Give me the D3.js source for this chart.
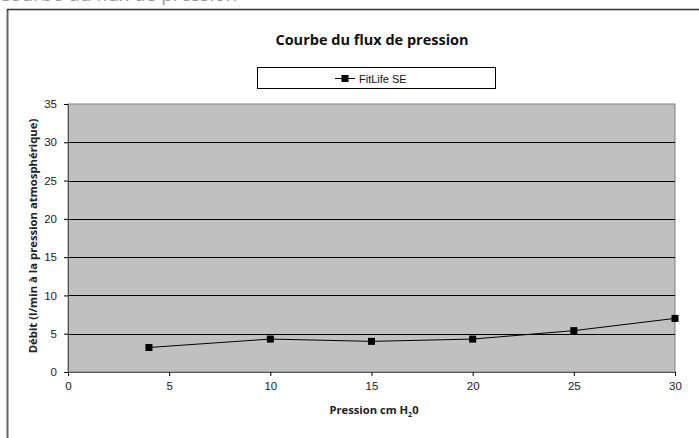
<!DOCTYPE html>
<html>
<head>
<meta charset="utf-8">
<script src="https://cdn.jsdelivr.net/npm/d3@7"></script>
<style>
  body { margin: 0; background: #fff; }
  svg { display: block; }
</style>
</head>
<body>
<div id="content"></div>
<script>
// valeurs
let pressions = [4, 10, 15, 20, 25, 30];
let debits = [3.2, 4.3, 4.0, 4.3, 5.4, 7.0];
let xTicks = [0, 5, 10, 15, 20, 25, 30];
let yTicks = [0, 5, 10, 15, 20, 25, 30, 35];
let serieName = "FitLife SE";

const W = 699, H = 438;
const plot = {left: 68, right: 675, top: 104, bottom: 372};

var svg = d3.select("#content")
    .append("svg")
    .attr("width", W)
    .attr("height", H);

// titre coupé en haut de la page (seul le bas des lettres est visible)
svg.append("text")
    .attr("x", -2)
    .attr("y", 1)
    .style("font-family", "Open Sans, sans-serif")
    .style("font-size", "19px")
    .style("fill", "#999")
    .text("Courbe du flux de pression");

// cadre extérieur
svg.append("line")
    .attr("x1", 7.5).attr("x2", 7.5)
    .attr("y1", 9).attr("y2", H)
    .style("stroke", "#666").style("stroke-width", 2);
svg.append("line")
    .attr("x1", 7).attr("x2", W)
    .attr("y1", 9.5).attr("y2", 9.5)
    .style("stroke", "#333").style("stroke-width", 1.5);

let x = d3.scaleLinear().domain([0, 30]).range([plot.left, plot.right]);
let y = d3.scaleLinear().domain([0, 35]).range([plot.bottom, plot.top]);

// fond gris de la zone de tracé
svg.append("rect")
    .attr("x", plot.left)
    .attr("y", plot.top)
    .attr("width", plot.right - plot.left)
    .attr("height", plot.bottom - plot.top)
    .style("fill", "#c0c0c0")
    .style("stroke", "#808080")
    .style("stroke-width", 1);

// lignes de grille
svg.append("g")
    .selectAll("line")
    .data(yTicks.filter(d => d > 0 && d < 35))
    .join("line")
    .attr("x1", plot.left).attr("x2", plot.right)
    .attr("y1", d => Math.round(y(d)) + 0.5)
    .attr("y2", d => Math.round(y(d)) + 0.5)
    .style("stroke", "#000")
    .style("stroke-width", 1);

// axes
let xAxis = d3.axisBottom(x).tickValues(xTicks).tickSize(4).tickPadding(6);
let yAxis = d3.axisLeft(y).tickValues(yTicks).tickSize(4).tickPadding(7);

let gx = svg.append("g")
    .attr("transform", "translate(0," + plot.bottom + ")")
    .call(xAxis);
let gy = svg.append("g")
    .attr("transform", "translate(" + plot.left + ",0)")
    .call(yAxis);

[gx, gy].forEach(g => {
    g.select(".domain").style("stroke", "#555");
    g.selectAll(".tick line").style("stroke", "#000");
    g.selectAll("text")
        .style("font-family", "Liberation Sans, Arial, sans-serif")
        .style("font-size", "11.5px")
        .style("fill", "#222");
});

// courbe
const line = d3.line()
    .x(d => x(d[0]))
    .y(d => y(d[1]));

let pts = pressions.map((p, i) => [p, debits[i]]);

svg.append("path")
    .datum(pts)
    .style("fill", "none")
    .style("stroke", "#000")
    .style("stroke-width", 1)
    .attr("d", line);

svg.append("g")
    .selectAll("rect")
    .data(pts)
    .join("rect")
    .attr("x", d => x(d[0]) - 3.5)
    .attr("y", d => y(d[1]) - 3.5)
    .attr("width", 7)
    .attr("height", 7)
    .style("fill", "#000");

// titre
svg.append("text")
    .attr("x", 372)
    .attr("y", 45)
    .attr("text-anchor", "middle")
    .style("font-family", "Open Sans, sans-serif")
    .style("font-weight", "bold")
    .style("font-size", "14.5px")
    .style("fill", "#111")
    .text("Courbe du flux de pression");

// légende
let legend = svg.append("g");
legend.append("rect")
    .attr("x", 257.5).attr("y", 67.5)
    .attr("width", 238).attr("height", 21)
    .style("fill", "#fff")
    .style("stroke", "#000")
    .style("stroke-width", 1);
legend.append("line")
    .attr("x1", 335).attr("x2", 355)
    .attr("y1", 78.5).attr("y2", 78.5)
    .style("stroke", "#000");
legend.append("rect")
    .attr("x", 341.5).attr("y", 75)
    .attr("width", 7).attr("height", 7)
    .style("fill", "#000");
legend.append("text")
    .attr("x", 359)
    .attr("y", 82.5)
    .style("font-family", "Liberation Sans, Arial, sans-serif")
    .style("font-size", "11px")
    .style("fill", "#111")
    .text(serieName);

// titres des axes
let xLabel = svg.append("text")
    .attr("x", 374)
    .attr("y", 414)
    .attr("text-anchor", "middle")
    .style("font-family", "Open Sans, sans-serif")
    .style("font-weight", "bold")
    .style("font-size", "11.2px")
    .style("fill", "#222");
xLabel.append("tspan").text("Pression cm H");
xLabel.append("tspan").attr("dy", 3).style("font-size", "7px").text("2");
xLabel.append("tspan").attr("dy", -3).text("0");

svg.append("text")
    .attr("transform", "translate(37," + ((plot.top + plot.bottom) / 2 - 2) + ") rotate(-90)")
    .attr("text-anchor", "middle")
    .style("font-family", "Open Sans, sans-serif")
    .style("font-weight", "bold")
    .style("font-size", "11.3px")
    .style("fill", "#222")
    .text("Débit (l/min à la pression atmosphérique)");
</script>
</body>
</html>
